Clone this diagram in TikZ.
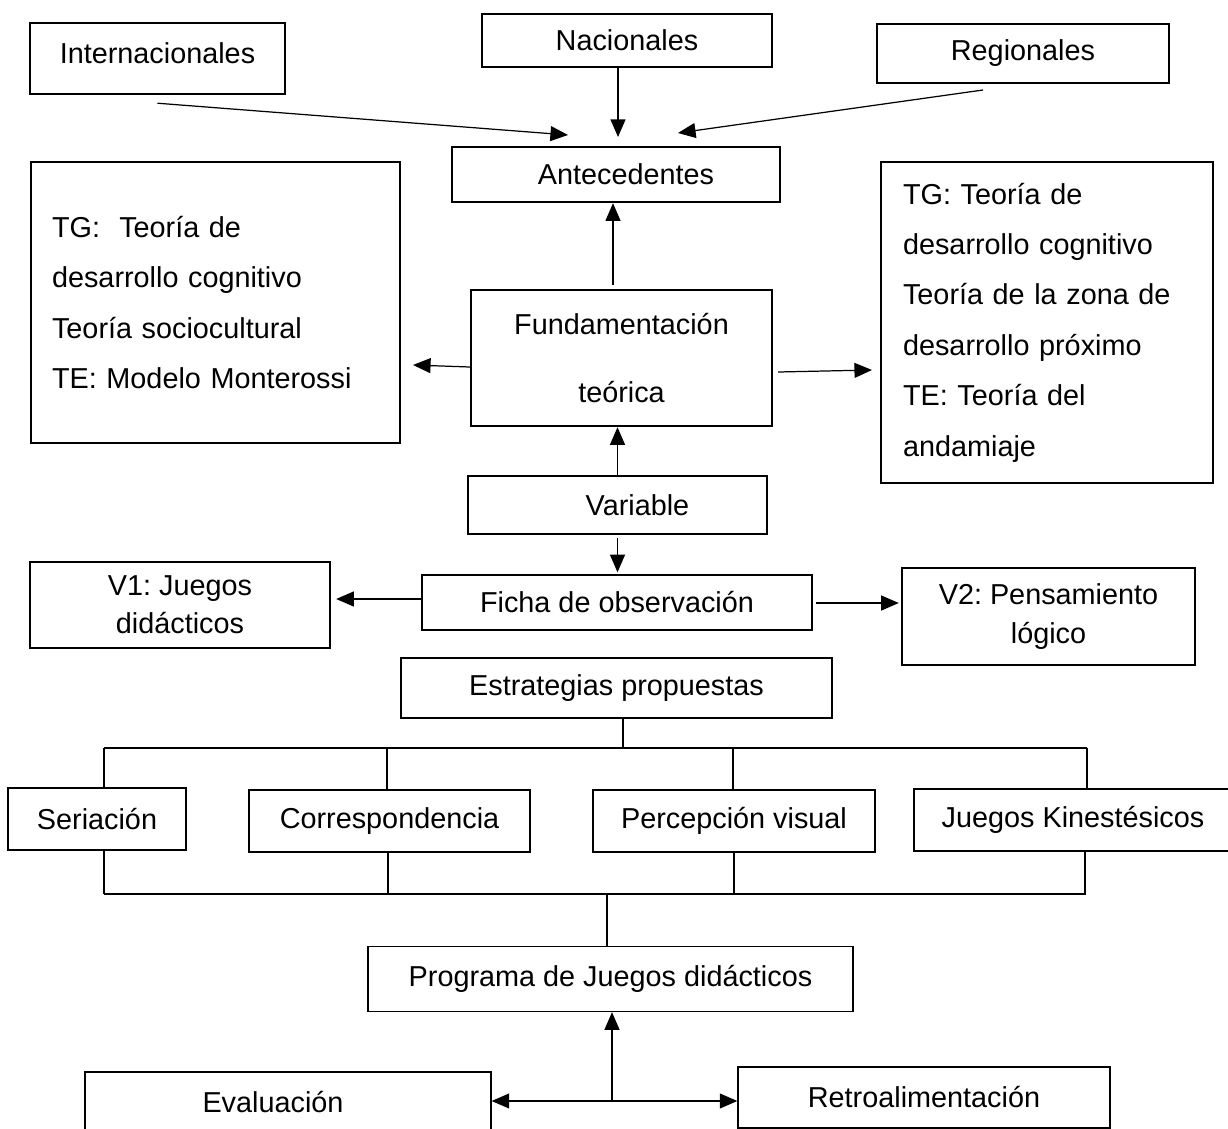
\documentclass[tikz,border=0pt]{standalone}
\usepackage{fontspec}
\setmainfont{Liberation Sans}
\usetikzlibrary{arrows.meta}
\frenchspacing

\begin{document}
\begin{tikzpicture}[x=0.02cm, y=-0.02cm,
		font=\fontsize{16.4}{19.7}\selectfont,
		box_thick/.style={rectangle,draw=black,line width=1.4pt,inner sep=0pt},
		box_thin/.style={rectangle,draw=black,line width=0.8pt,inner sep=0pt},
		edge_style/.style={draw=black,line width=0.7pt},
		arrow_style/.style={edge_style,-{Triangle[length=10pt,width=8.5pt]}},
		both_style/.style={edge_style,{Triangle[length=10pt,width=8.5pt]}-{Triangle[length=10pt,width=8.5pt]}}]

		\useasboundingbox (0,0) rectangle (1228,1129);
		\clip (0,0) rectangle (1228,1129);

		% antecedentes
		\node[box_thick, minimum width=5.10cm, minimum height=1.42cm] (inter) at (157.5,58.5) {\raisebox{0.22cm}{Internacionales}};
		\node[box_thick, minimum width=5.80cm, minimum height=1.06cm] (nac) at (627,40.5) {Nacionales};
		\node[box_thick, minimum width=5.84cm, minimum height=1.18cm] (reg) at (1023,53.5) {Regionales};
		\node[box_thick, minimum width=6.56cm, minimum height=1.10cm] (ante) at (616,174.5) {\hspace*{0.4cm}Antecedentes};

		% fundamentacion
		\node[box_thick, minimum width=7.38cm, minimum height=5.62cm, text width=6.54cm, align=left,
			font=\fontsize{16.4}{28.8}\selectfont] (tg_left) at (215.5,302.5)
			{TG:~ Teoría de\\desarrollo cognitivo\\Teoría sociocultural\\TE: Modelo Monterossi};
		\node[box_thick, minimum width=6.02cm, minimum height=2.72cm, align=center,
			font=\fontsize{16.4}{38.7}\selectfont] (fund) at (621.5,358) {Fundamentación\\teórica};
		\node[box_thick, minimum width=6.64cm, minimum height=6.42cm, text width=5.76cm, align=left,
			font=\fontsize{16.4}{28.7}\selectfont] (tg_right) at (1047,322.5)
			{TG: Teoría de\\desarrollo cognitivo\\Teoría de la zona de\\desarrollo próximo\\TE: Teoría del\\andamiaje};

		% variables
		\node[box_thin, minimum width=5.98cm, minimum height=1.16cm] (var) at (617.5,505) {\hspace*{0.8cm}Variable};
		\node[box_thin, minimum width=7.80cm, minimum height=1.10cm] (ficha) at (617,602.5) {Ficha de observación};
		\node[box_thick, minimum width=6.00cm, minimum height=1.72cm, align=center,
			font=\fontsize{16.4}{21.6}\selectfont] (v1) at (180,605) {V1: Juegos\\didácticos};
		\node[box_thick, minimum width=5.86cm, minimum height=1.94cm, align=center,
			font=\fontsize{16.4}{22.2}\selectfont] (v2) at (1048.5,616.5) {V2: Pensamiento\\lógico};

		% estrategias
		\node[box_thin, minimum width=8.62cm, minimum height=1.20cm] (estr) at (616.5,688) {Estrategias propuestas};
		\node[box_thin, minimum width=3.56cm, minimum height=1.24cm] (seri) at (97,819) {Seriación};
		\node[box_thin, minimum width=5.62cm, minimum height=1.24cm] (corr) at (389.5,821) {Correspondencia};
		\node[box_thin, minimum width=5.64cm, minimum height=1.24cm] (perc) at (734,821) {Percepción visual};
		\node[box_thin, minimum width=6.52cm, minimum height=1.24cm] (kine) at (1077,820) {Juegos Kinestésicos\hspace*{0.16cm}};

		% programa
		\node[box_thin, minimum width=9.70cm, minimum height=1.30cm] (prog) at (610.5,979) {Programa de Juegos didácticos};
		\node[box_thin, minimum width=8.12cm, minimum height=1.20cm] (eval) at (288,1102) {Evaluación\hspace*{0.6cm}};
		\node[box_thin, minimum width=7.44cm, minimum height=1.22cm] (retro) at (924,1097.5) {Retroalimentación};

		% free ends
		\coordinate (inter_tip) at (568,135);
		\coordinate (nac_tip) at (618,137);
		\coordinate (reg_start) at (983,90);
		\coordinate (reg_tip) at (678,133);
		\coordinate (fund_up) at (613,285);
		\coordinate (left_tip) at (413,365);
		\coordinate (right_tip) at (872,370);
		\coordinate (bus_top) at (623,748);
		\coordinate (bus_bot) at (607,894);
		\coordinate (hub) at (612,1101);

		\draw[arrow_style] ([yshift=-0.16cm]inter.south) -- (inter_tip);
		\draw[arrow_style] (nac.south -| nac_tip) -- (nac_tip);
		\draw[arrow_style] (reg_start) -- (reg_tip);
		\draw[arrow_style] (fund_up) -- (fund_up |- ante.south);
		\draw[arrow_style] (fund.west |- 0,367) -- (left_tip);
		\draw[arrow_style] ([xshift=0.1cm]fund.east |- 0,372) -- (right_tip);
		\draw[arrow_style] (var.north) -- (var.north |- fund.south);
		\draw[arrow_style] ([yshift=-0.06cm]var.south) -- ([yshift=0.04cm]var.south |- ficha.north);
		\draw[arrow_style] (ficha.west |- 0,599) -- ([xshift=0.1cm]v1.east |- 0,599);
		\draw[arrow_style] ([xshift=0.06cm]ficha.east |- 0,603) -- ([xshift=-0.04cm]v2.west |- 0,603);

		\draw[edge_style] (estr.south -| bus_top) -- (bus_top);
		\draw[edge_style] (104,0 |- bus_top) -- (1087,0 |- bus_top);
		\foreach \n/\x in {seri/104, corr/387, perc/733, kine/1087}
			\draw[edge_style] (\x,0 |- bus_top) -- (\n.north -| \x,0);
		\foreach \n/\x in {seri/104, corr/388, perc/734, kine/1085}
			\draw[edge_style] (\n.south -| \x,0) -- (\x,0 |- bus_bot);
		\draw[edge_style] (104,0 |- bus_bot) -- (1086,0 |- bus_bot);
		\draw[edge_style] (bus_bot) -- (bus_bot |- prog.north);

		\draw[arrow_style] (hub) -- (hub |- prog.south);
		\draw[both_style] (hub -| eval.east) -- (hub -| retro.west);

\end{tikzpicture}
\end{document}
